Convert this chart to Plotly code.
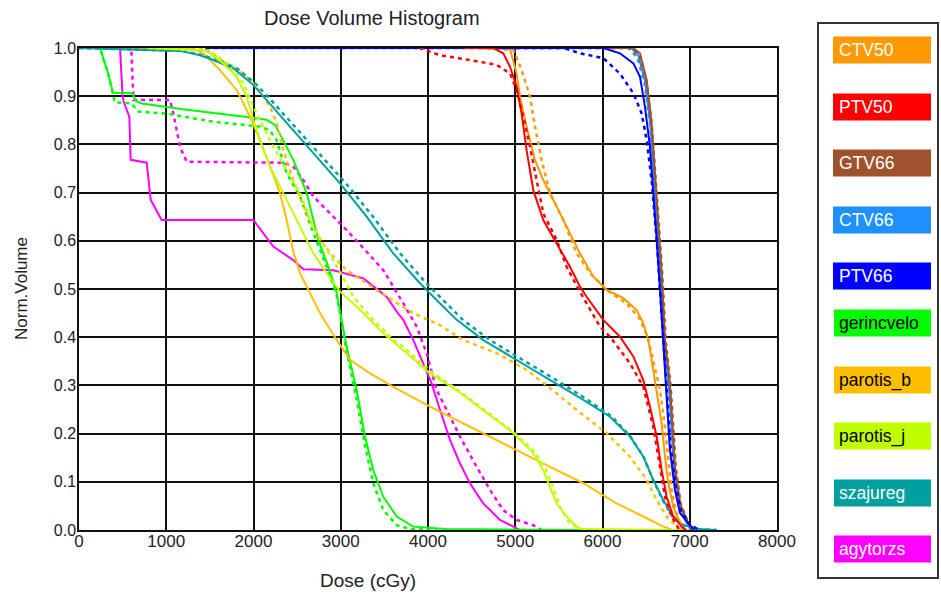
import plotly.graph_objects as go

# ---------------- data ----------------
names = ["CTV50", "PTV50", "GTV66", "CTV66", "PTV66",
         "gerincvelo", "parotis_b", "parotis_j", "szajureg", "agytorzs"]
colors = ["#FF9900", "#FF0000", "#A0522D", "#1E90FF", "#0000FF",
          "#00FF00", "#FFBF00", "#BFFF00", "#00A0A0", "#FF00FF"]
label_colors = ["white", "white", "white", "white", "white",
                "black", "black", "black", "white", "white"]

x_ticks = [0, 1000, 2000, 3000, 4000, 5000, 6000, 7000, 8000]
y_ticks = [0.0, 0.1, 0.2, 0.3, 0.4, 0.5, 0.6, 0.7, 0.8, 0.9, 1.0]

# plan A (solid) and plan B (dotted) : dose [cGy], normalized volume
ctv50_a_dose = [4600, 4940, 5016, 5054, 5130, 5226, 5321, 5436, 5589, 5742, 5894, 6048, 6239, 6392, 6468, 6525, 6563, 6621, 6678, 6716, 6754, 6811, 6888, 6950]
ctv50_a_vol = [1.0, 0.998, 0.947, 0.899, 0.837, 0.768, 0.726, 0.685, 0.629, 0.574, 0.526, 0.498, 0.481, 0.456, 0.429, 0.394, 0.353, 0.290, 0.221, 0.152, 0.097, 0.048, 0.014, 0.0]
ctv50_b_dose = [4600, 4978, 5040, 5100, 5169, 5226, 5302, 5398, 5551, 5704, 5857, 6048, 6277, 6420, 6520, 6600, 6659, 6716, 6754, 6792, 6850, 6920]
ctv50_b_vol = [1.0, 0.996, 0.97, 0.94, 0.899, 0.837, 0.768, 0.699, 0.643, 0.574, 0.533, 0.498, 0.470, 0.44, 0.40, 0.34, 0.290, 0.214, 0.145, 0.083, 0.035, 0.0]

ptv50_a_dose = [4400, 4749, 4863, 4940, 5016, 5073, 5130, 5207, 5321, 5474, 5627, 5742, 5818, 6009, 6200, 6353, 6468, 6544, 6621, 6678, 6735, 6811, 6907, 6960]
ptv50_a_vol = [1.0, 1.0, 0.989, 0.961, 0.920, 0.864, 0.788, 0.705, 0.643, 0.595, 0.546, 0.505, 0.484, 0.436, 0.401, 0.360, 0.311, 0.256, 0.194, 0.124, 0.069, 0.028, 0.007, 0.0]
ptv50_b_dose = [3900, 4138, 4481, 4787, 4940, 5016, 5092, 5169, 5245, 5321, 5474, 5589, 5742, 5971, 6086, 6315, 6468, 6582, 6659, 6716, 6792, 6880]
ptv50_b_vol = [1.0, 0.985, 0.975, 0.965, 0.947, 0.913, 0.857, 0.795, 0.726, 0.657, 0.602, 0.546, 0.494, 0.422, 0.401, 0.346, 0.297, 0.214, 0.131, 0.069, 0.028, 0.0]

gtv66_a_dose = [5000, 6354, 6430, 6506, 6563, 6602, 6640, 6678, 6716, 6773, 6831, 6888, 6964, 7020]
gtv66_a_vol = [1.0, 1.0, 0.989, 0.934, 0.844, 0.740, 0.636, 0.533, 0.394, 0.304, 0.131, 0.055, 0.021, 0.0]
gtv66_b_dose = [5000, 6340, 6425, 6505, 6565, 6605, 6645, 6685, 6725, 6780, 6840, 6895, 6970, 7030]
gtv66_b_vol = [1.0, 1.0, 0.985, 0.93, 0.84, 0.735, 0.63, 0.53, 0.39, 0.30, 0.13, 0.055, 0.02, 0.0]

ctv66_a_dose = [5000, 6330, 6410, 6490, 6550, 6592, 6630, 6668, 6706, 6760, 6820, 6880, 6950, 7010]
ctv66_a_vol = [1.0, 1.0, 0.985, 0.93, 0.84, 0.735, 0.63, 0.53, 0.39, 0.30, 0.13, 0.055, 0.02, 0.0]
ctv66_b_dose = [5000, 6300, 6400, 6485, 6550, 6595, 6635, 6675, 6715, 6770, 6830, 6890, 6960, 7020]
ctv66_b_vol = [1.0, 1.0, 0.98, 0.925, 0.835, 0.73, 0.625, 0.525, 0.385, 0.295, 0.125, 0.05, 0.018, 0.0]

ptv66_a_dose = [1450, 6009, 6200, 6354, 6430, 6487, 6544, 6583, 6621, 6659, 6697, 6735, 6773, 6831, 6888, 7002, 7050]
ptv66_a_vol = [1.0, 1.0, 0.989, 0.968, 0.940, 0.878, 0.795, 0.705, 0.602, 0.498, 0.385, 0.270, 0.166, 0.083, 0.035, 0.010, 0.0]
ptv66_b_dose = [1450, 5551, 5742, 6009, 6200, 6354, 6449, 6506, 6563, 6621, 6659, 6697, 6740, 6780, 6840, 6900, 7000, 7100]
ptv66_b_vol = [1.0, 1.0, 0.989, 0.979, 0.947, 0.906, 0.864, 0.809, 0.726, 0.602, 0.498, 0.39, 0.28, 0.175, 0.09, 0.04, 0.012, 0.0]

gerinc_a_dose = [0, 240, 330, 390, 610, 650, 720, 1190, 1920, 2150, 2250, 2300, 2456, 2610, 2743, 2858, 2950, 3068, 3183, 3278, 3373, 3488, 3641, 3831, 4200, 5750]
gerinc_a_vol = [1.0, 1.0, 0.95, 0.907, 0.906, 0.89, 0.885, 0.873, 0.857, 0.851, 0.840, 0.823, 0.768, 0.699, 0.602, 0.546, 0.495, 0.380, 0.290, 0.194, 0.124, 0.069, 0.028, 0.007, 0.002, 0.0]
gerinc_b_dose = [0, 240, 330, 410, 600, 680, 1000, 1536, 2075, 2180, 2265, 2380, 2533, 2686, 2839, 2950, 3068, 3183, 3278, 3373, 3488, 3641, 3800, 4100]
gerinc_b_vol = [1.0, 1.0, 0.95, 0.887, 0.885, 0.868, 0.864, 0.847, 0.837, 0.83, 0.809, 0.740, 0.692, 0.616, 0.546, 0.49, 0.37, 0.27, 0.175, 0.097, 0.041, 0.010, 0.002, 0.0]

parb_a_dose = [0, 1300, 1425, 1616, 1807, 1960, 2075, 2189, 2304, 2380, 2456, 2533, 2648, 2762, 2915, 3106, 3335, 3602, 4023, 4405, 5016, 5398, 5780, 6162, 6468, 6697, 6800]
parb_a_vol = [1.0, 1.0, 0.989, 0.954, 0.913, 0.857, 0.809, 0.754, 0.699, 0.643, 0.578, 0.533, 0.491, 0.450, 0.405, 0.353, 0.325, 0.297, 0.256, 0.221, 0.166, 0.131, 0.097, 0.055, 0.028, 0.007, 0.0]
parb_b_dose = [0, 1350, 1463, 1693, 1884, 2036, 2189, 2265, 2342, 2456, 2609, 2762, 2915, 3068, 3297, 3526, 3832, 4138, 4405, 4787, 5130, 5430, 5704, 6048, 6315, 6506, 6621, 6735, 6850, 6900]
parb_b_vol = [1.0, 1.0, 0.996, 0.968, 0.947, 0.920, 0.878, 0.844, 0.788, 0.726, 0.657, 0.602, 0.567, 0.539, 0.512, 0.484, 0.450, 0.425, 0.394, 0.367, 0.332, 0.290, 0.249, 0.201, 0.152, 0.104, 0.062, 0.028, 0.007, 0.0]

parj_a_dose = [780, 1450, 1654, 1807, 1922, 1998, 2113, 2227, 2380, 2533, 2686, 2839, 2991, 3220, 3488, 3755, 4023, 4329, 4634, 4978, 5207, 5321, 5379, 5474, 5589, 5704, 5760, 6950]
parj_a_vol = [1.0, 0.995, 0.968, 0.940, 0.899, 0.851, 0.788, 0.740, 0.685, 0.629, 0.574, 0.533, 0.495, 0.457, 0.408, 0.367, 0.325, 0.290, 0.249, 0.201, 0.159, 0.124, 0.097, 0.055, 0.028, 0.007, 0.002, 0.0]
parj_b_dose = [800, 1500, 1693, 1884, 1998, 2113, 2227, 2380, 2533, 2686, 2915, 3144, 3373, 3602, 3717, 4023, 4329, 4634, 4978, 5207, 5340, 5420, 5513, 5620, 5760]
parj_b_vol = [1.0, 0.995, 0.968, 0.927, 0.878, 0.837, 0.795, 0.747, 0.699, 0.629, 0.560, 0.484, 0.436, 0.395, 0.380, 0.33, 0.292, 0.251, 0.203, 0.165, 0.13, 0.095, 0.048, 0.015, 0.0]

szaj_a_dose = [0, 1005, 1160, 1387, 1539, 1769, 1998, 2151, 2380, 2686, 2991, 3297, 3602, 3908, 4138, 4329, 4634, 5016, 5398, 5780, 6086, 6315, 6468, 6582, 6697, 6811, 6926, 7100, 7310]
szaj_a_vol = [1.0, 0.996, 0.994, 0.985, 0.975, 0.958, 0.923, 0.892, 0.844, 0.782, 0.719, 0.650, 0.574, 0.512, 0.470, 0.436, 0.394, 0.353, 0.311, 0.27, 0.235, 0.194, 0.152, 0.104, 0.062, 0.028, 0.010, 0.002, 0.0]
szaj_b_dose = [0, 1005, 1180, 1420, 1580, 1810, 2040, 2200, 2440, 2750, 3060, 3370, 3680, 3980, 4210, 4400, 4710, 5090, 5470, 5830, 6110, 6320, 6470, 6580, 6690, 6800, 6926, 7100, 7310]
szaj_b_vol = [1.0, 0.996, 0.994, 0.985, 0.975, 0.958, 0.923, 0.892, 0.844, 0.782, 0.719, 0.650, 0.574, 0.512, 0.470, 0.436, 0.394, 0.353, 0.311, 0.27, 0.235, 0.194, 0.152, 0.104, 0.062, 0.028, 0.010, 0.002, 0.0]

agy_a_dose = [0, 470, 500, 510, 577, 592, 776, 822, 947, 1998, 2227, 2456, 2571, 2915, 3258, 3526, 3641, 3717, 3832, 3946, 4042, 4138, 4252, 4367, 4481, 4634, 4825, 4978, 5050]
agy_a_vol = [1.0, 1.0, 0.899, 0.89, 0.857, 0.768, 0.762, 0.685, 0.643, 0.643, 0.588, 0.560, 0.541, 0.539, 0.522, 0.484, 0.453, 0.436, 0.394, 0.346, 0.304, 0.249, 0.187, 0.138, 0.097, 0.055, 0.021, 0.007, 0.0]
agy_b_dose = [0, 600, 610, 625, 1043, 1081, 1158, 1234, 2342, 2456, 2571, 2686, 2915, 3068, 3278, 3488, 3717, 3870, 3984, 4100, 4214, 4367, 4558, 4711, 4863, 5016, 5207, 5300]
agy_b_vol = [1.0, 1.0, 0.95, 0.892, 0.892, 0.864, 0.795, 0.764, 0.762, 0.754, 0.726, 0.692, 0.650, 0.622, 0.581, 0.539, 0.470, 0.422, 0.367, 0.290, 0.249, 0.194, 0.131, 0.083, 0.041, 0.021, 0.010, 0.0]

series = {
    "CTV50": (ctv50_a_dose, ctv50_a_vol, ctv50_b_dose, ctv50_b_vol),
    "PTV50": (ptv50_a_dose, ptv50_a_vol, ptv50_b_dose, ptv50_b_vol),
    "GTV66": (gtv66_a_dose, gtv66_a_vol, gtv66_b_dose, gtv66_b_vol),
    "CTV66": (ctv66_a_dose, ctv66_a_vol, ctv66_b_dose, ctv66_b_vol),
    "PTV66": (ptv66_a_dose, ptv66_a_vol, ptv66_b_dose, ptv66_b_vol),
    "gerincvelo": (gerinc_a_dose, gerinc_a_vol, gerinc_b_dose, gerinc_b_vol),
    "parotis_b": (parb_a_dose, parb_a_vol, parb_b_dose, parb_b_vol),
    "parotis_j": (parj_a_dose, parj_a_vol, parj_b_dose, parj_b_vol),
    "szajureg": (szaj_a_dose, szaj_a_vol, szaj_b_dose, szaj_b_vol),
    "agytorzs": (agy_a_dose, agy_a_vol, agy_b_dose, agy_b_vol),
}
draw_order = ["agytorzs", "gerincvelo", "parotis_b", "szajureg", "parotis_j",
              "CTV50", "CTV66", "GTV66", "PTV66", "PTV50"]

# ---------------- figure ----------------
W, H = 941, 599
L, R, T, B = 79, 777, 48, 530  # plot area in pixels
FONT = "Liberation Sans, Arial, sans-serif"

def px_x(p):
    return (p - L) / (R - L)

def px_y(p):
    return (B - p) / (B - T)

fig = go.Figure()
color_of = dict(zip(names, colors))
for nm in draw_order:
    da, va, db, vb = series[nm]
    c = color_of[nm]
    fig.add_trace(go.Scatter(x=db, y=vb, mode="lines", name=nm + " (B)",
                             line=dict(color=c, width=2.5, dash="4px,4px"),
                             showlegend=False))
    fig.add_trace(go.Scatter(x=da, y=va, mode="lines", name=nm,
                             line=dict(color=c, width=2),
                             showlegend=False))

fig.update_layout(
    width=W, height=H,
    margin=dict(l=L, r=W - R, t=T, b=H - B, pad=0),
    paper_bgcolor="white", plot_bgcolor="white",
    font=dict(family=FONT, color="#222"),
    showlegend=False,
)
fig.update_xaxes(range=[0, 8000], tickvals=x_ticks, ticktext=[str(v) for v in x_ticks],
                 showgrid=True, gridcolor="#111", gridwidth=1.5,
                 showline=True, linecolor="#111", linewidth=1.5, mirror=True,
                 zeroline=False, ticks="", ticklabelstandoff=-5,
                 tickfont=dict(size=17, family=FONT, color="#222"))
fig.update_yaxes(range=[0, 1], tickvals=y_ticks, ticktext=["%.1f" % v for v in y_ticks],
                 showgrid=True, gridcolor="#111", gridwidth=1.5,
                 showline=True, linecolor="#111", linewidth=1.5, mirror=True,
                 zeroline=False, ticks="", ticklabelstandoff=-2,
                 tickfont=dict(size=16, family=FONT, color="#222"))

# titles
fig.add_annotation(text="Dose Volume Histogram", xref="paper", yref="paper",
                   x=px_x(372), y=px_y(18), showarrow=False,
                   font=dict(size=20, family=FONT, color="#222"),
                   xanchor="center", yanchor="middle")
fig.add_annotation(text="Dose (cGy)", xref="paper", yref="paper",
                   x=px_x(368), y=px_y(580), showarrow=False,
                   font=dict(size=19, family=FONT, color="#222"),
                   xanchor="center", yanchor="middle")
fig.add_annotation(text="Norm.Volume", xref="paper", yref="paper",
                   x=px_x(21), y=px_y(289), showarrow=False, textangle=-90,
                   font=dict(size=17, family=FONT, color="#222"),
                   xanchor="center", yanchor="middle")

# legend panel (drawn manually)
fig.add_shape(type="rect", xref="paper", yref="paper",
              x0=px_x(818), x1=px_x(938), y0=px_y(578), y1=px_y(23),
              line=dict(color="#333", width=2), fillcolor="white")
centers = [50, 107, 163, 220, 276, 323, 380, 436, 493, 549]
for i, nm in enumerate(names):
    cy = centers[i]
    x0 = 833 if i < 5 else 834
    fig.add_shape(type="rect", xref="paper", yref="paper",
                  x0=px_x(x0), x1=px_x(931), y0=px_y(cy + 13.5), y1=px_y(cy - 13.5),
                  line=dict(width=0), fillcolor=colors[i])
    fig.add_annotation(text=nm, xref="paper", yref="paper",
                       x=px_x(837), y=px_y(cy), showarrow=False,
                       xanchor="left", yanchor="middle",
                       font=dict(size=17.5, family=FONT, color=label_colors[i]))

fig.write_html("out.html")
